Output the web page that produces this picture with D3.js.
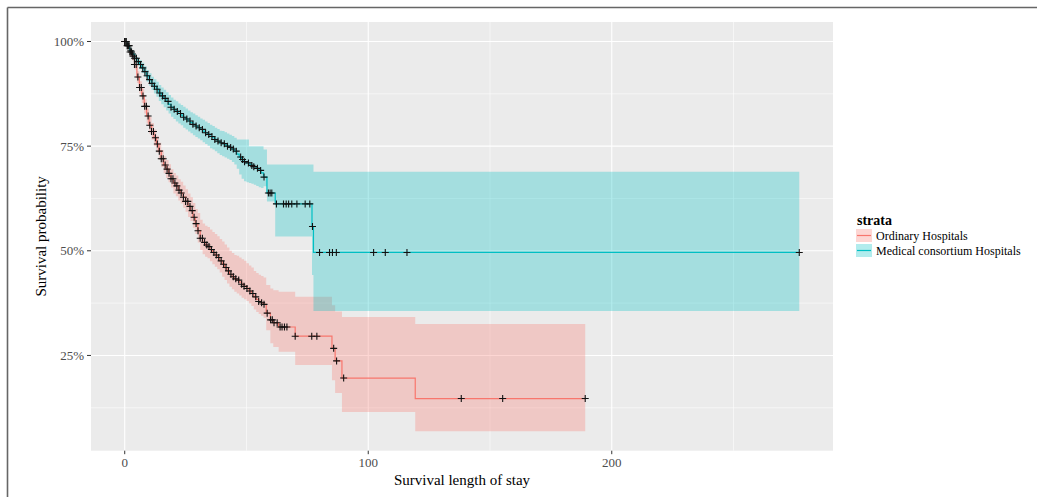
<!DOCTYPE html>
<html>
<head>
<meta charset="utf-8">
<script src="https://cdn.jsdelivr.net/npm/d3@7"></script>
<style>
  body { margin: 0; background: #fff; }
  svg { display: block; font-family: "Liberation Serif", "DejaVu Serif", serif; }
  .tick-label { fill: #4d4d4d; font-size: 13px; }
  .title { fill: #000; font-size: 15px; }
</style>
</head>
<body>
<svg width="1037" height="497"></svg>
<script>
// Ordinary Hospitals (red)
var redTime  = [0, 1, 2, 3, 4, 5, 6, 7, 8, 9, 10, 11, 12, 13, 14, 15, 16, 17, 18, 19,
                20, 21, 22, 23, 24, 25, 26, 27, 28, 29, 30, 31, 32, 33, 34, 35, 36, 37, 38, 39,
                40, 41, 42, 43, 44, 45, 46, 47, 48, 49, 50, 51, 52, 53, 54, 55, 56, 57,
                58.1, 59.8, 61, 63.2, 70, 85.1, 86.4, 89.2, 119.3, 189.1];
var redSurv  = [1, 0.99, 0.975, 0.965, 0.945, 0.915, 0.89, 0.87, 0.845, 0.822, 0.80, 0.785, 0.77, 0.755, 0.738, 0.72, 0.705, 0.695, 0.685, 0.672,
                0.662, 0.655, 0.645, 0.638, 0.628, 0.618, 0.606, 0.596, 0.580, 0.565, 0.548, 0.530, 0.520, 0.514, 0.510, 0.503, 0.496, 0.490, 0.484, 0.476,
                0.468, 0.460, 0.452, 0.444, 0.438, 0.433, 0.430, 0.425, 0.420, 0.415, 0.410, 0.404, 0.398, 0.390, 0.384, 0.379, 0.376, 0.372,
                0.351, 0.335, 0.328, 0.318, 0.296, 0.267, 0.237, 0.196, 0.147, 0.147];
var redUpper = [1, 0.995, 0.983, 0.975, 0.957, 0.929, 0.905, 0.887, 0.862, 0.84, 0.82, 0.805, 0.79, 0.775, 0.758, 0.741, 0.726, 0.717, 0.707, 0.695,
                0.686, 0.68, 0.671, 0.665, 0.656, 0.647, 0.637, 0.628, 0.614, 0.60, 0.59, 0.574, 0.565, 0.56, 0.557, 0.551, 0.545, 0.54, 0.535, 0.528,
                0.522, 0.515, 0.508, 0.50, 0.495, 0.49, 0.488, 0.484, 0.48, 0.476, 0.47, 0.465, 0.46, 0.452, 0.447, 0.443, 0.44, 0.436,
                0.418, 0.41, 0.406, 0.402, 0.39, 0.37, 0.355, 0.342, 0.325, 0.325];
var redLower = [1, 0.985, 0.967, 0.955, 0.933, 0.901, 0.875, 0.853, 0.828, 0.804, 0.78, 0.765, 0.75, 0.735, 0.718, 0.70, 0.685, 0.674, 0.664, 0.651,
                0.637, 0.63, 0.62, 0.613, 0.603, 0.593, 0.581, 0.571, 0.555, 0.54, 0.52, 0.502, 0.492, 0.486, 0.482, 0.475, 0.468, 0.462, 0.456, 0.448,
                0.438, 0.43, 0.422, 0.414, 0.408, 0.402, 0.398, 0.393, 0.388, 0.384, 0.38, 0.374, 0.368, 0.36, 0.354, 0.349, 0.345, 0.34,
                0.31, 0.279, 0.27, 0.259, 0.227, 0.191, 0.16, 0.115, 0.069, 0.069];
var redCensor = [0, 0.5, 1, 1.6, 2.2, 2.8, 3.4, 4, 4.7, 5.4, 6.1, 6.8, 7.5, 8.2, 8.9, 9.6, 10.3, 11, 11.8, 12.6,
                 13.4, 14.2, 15, 15.8, 16.6, 17.4, 18.2, 19, 19.8, 20.6, 21.4, 22.3, 23.2, 24.1, 25, 25.9, 26.8, 27.7, 28.5, 29.3,
                 30.1, 31, 31.9, 32.8, 33.7, 34.6, 35.6, 36.6, 37.6, 38.6, 39.6, 40.6, 41.6, 42.6, 43.6, 44.6, 45.6, 46.8, 48, 49,
                 50.2, 51.4, 52.6, 53.8, 55, 56.2, 57.2, 58.5, 59.9, 60.6, 61.3, 62.6, 63.8, 64.6, 65.6, 66.6, 70, 76.8, 78.9,
                 85.8, 87, 89.9, 138.2, 155.2, 189.1];

// Medical consortium Hospitals (teal)
var tealTime  = [0, 1, 2, 3, 4, 5, 6, 7, 8, 9, 10, 11, 12, 13, 14, 15, 16, 17, 18, 19,
                 20, 21, 22, 23, 24, 25, 26, 27, 28, 29, 30, 31, 32, 33, 34, 35, 36, 37, 38, 39,
                 40, 41, 42, 43, 44, 45, 46, 47, 48, 49, 50, 51, 52, 53, 54, 55, 56, 57,
                 58.4, 61.8, 76.9, 77.5, 277];
var tealSurv  = [1, 0.99, 0.978, 0.97, 0.96, 0.952, 0.945, 0.937, 0.928, 0.918, 0.909, 0.90, 0.893, 0.886, 0.877, 0.870, 0.864, 0.857, 0.850, 0.843,
                 0.838, 0.833, 0.828, 0.824, 0.819, 0.815, 0.81, 0.806, 0.802, 0.798, 0.794, 0.79, 0.786, 0.782, 0.778, 0.773, 0.77, 0.766, 0.762, 0.758,
                 0.756, 0.753, 0.75, 0.747, 0.743, 0.738, 0.731, 0.724, 0.718, 0.713, 0.71, 0.707, 0.704, 0.701, 0.697, 0.692, 0.686, 0.676,
                 0.638, 0.612, 0.558, 0.496, 0.496];
var tealUpper = [1, 0.995, 0.985, 0.978, 0.969, 0.962, 0.956, 0.949, 0.941, 0.932, 0.924, 0.916, 0.91, 0.904, 0.896, 0.89, 0.885, 0.879, 0.872, 0.866,
                 0.861, 0.857, 0.852, 0.848, 0.844, 0.84, 0.835, 0.831, 0.828, 0.824, 0.82, 0.816, 0.813, 0.809, 0.805, 0.801, 0.798, 0.794, 0.791, 0.787,
                 0.786, 0.783, 0.78, 0.777, 0.774, 0.77, 0.766, 0.766, 0.766, 0.766, 0.766, 0.75, 0.75, 0.75, 0.75, 0.75, 0.75, 0.742,
                 0.706, 0.706, 0.706, 0.689, 0.689];
var tealLower = [1, 0.985, 0.971, 0.962, 0.951, 0.942, 0.934, 0.925, 0.915, 0.904, 0.894, 0.884, 0.876, 0.868, 0.858, 0.85, 0.843, 0.835, 0.828, 0.82,
                 0.815, 0.809, 0.804, 0.80, 0.794, 0.79, 0.785, 0.781, 0.776, 0.772, 0.768, 0.764, 0.759, 0.755, 0.751, 0.745, 0.742, 0.738, 0.733, 0.729,
                 0.726, 0.723, 0.72, 0.717, 0.712, 0.706, 0.696, 0.682, 0.672, 0.666, 0.664, 0.662, 0.66, 0.658, 0.655, 0.652, 0.650, 0.654,
                 0.618, 0.534, 0.442, 0.356, 0.356];
var tealCensor = [0, 0.6, 1.2, 1.8, 2.5, 3.2, 4, 4.8, 5.6, 6.5, 7.4, 8.3, 9.2, 10.2, 11.2, 12.2, 13.3, 14.4, 15.5, 16.6,
                  17.8, 19, 20.3, 21.6, 22.9, 24.2, 25.5, 26.8, 28, 29.3, 30.6, 31.9, 33.2, 34.5, 35.8, 37, 38.3, 39.6, 40.9, 42.2,
                  43.5, 44.6, 45.8, 47.6, 48.4, 49.2, 50.8, 52.2, 53, 54.5, 55.8, 57.2, 59, 59.7, 60.4, 62.3, 65.2, 66.3, 67.3,
                  68.6, 70.7, 74.1, 76, 77.1, 80, 84.1, 85.3, 86.9, 102.2, 107, 115.9, 277];

var xTicks = [0, 100, 200];
var xMinor = [50, 150, 250];
var yTicks = [0.25, 0.5, 0.75, 1];
var yMinor = [0.125, 0.375, 0.625, 0.875];
var strata = ["Ordinary Hospitals", "Medical consortium Hospitals"];
var colors = ["#F8766D", "#00BFC4"];

var groups = [
  {time: redTime, surv: redSurv, upper: redUpper, lower: redLower, censor: redCensor, color: colors[0]},
  {time: tealTime, surv: tealSurv, upper: tealUpper, lower: tealLower, censor: tealCensor, color: colors[1]}
];

var svg = d3.select("svg"),
    panel = {left: 91, right: 833, top: 22, bottom: 450.7},
    width = panel.right - panel.left,
    height = panel.bottom - panel.top;

// frame around the figure
svg.append("line").attr("x1", 7.5).attr("x2", 1037).attr("y1", 7.5).attr("y2", 7.5)
  .attr("stroke", "#666").attr("stroke-width", 1.6);
svg.append("line").attr("x1", 7.5).attr("x2", 7.5).attr("y1", 7.5).attr("y2", 497)
  .attr("stroke", "#666").attr("stroke-width", 1.6);

// ggplot style 5% expansion
var tMax = d3.max(tealTime.concat(redTime)),
    xPad = tMax * 0.05;
var yLo = d3.min(redLower.concat(tealLower)),
    yHi = d3.max(redUpper.concat(tealUpper)),
    yPad = (yHi - yLo) * 0.05;

var x = d3.scaleLinear().domain([-xPad, tMax + xPad]).range([0, width]);
var y = d3.scaleLinear().domain([yLo - yPad, yHi + yPad]).range([height, 0]);

var g = svg.append("g")
    .attr("transform", "translate(" + panel.left + "," + panel.top + ")");

g.append("rect").attr("width", width).attr("height", height).attr("fill", "#EBEBEB");

// grid
g.selectAll(".ymin").data(yMinor).enter().append("line")
  .attr("x1", 0).attr("x2", width).attr("y1", function(d) { return y(d); }).attr("y2", function(d) { return y(d); })
  .attr("stroke", "#fff").attr("stroke-width", 0.55);
g.selectAll(".xmin").data(xMinor).enter().append("line")
  .attr("y1", 0).attr("y2", height).attr("x1", function(d) { return x(d); }).attr("x2", function(d) { return x(d); })
  .attr("stroke", "#fff").attr("stroke-width", 0.55);
g.selectAll(".ymaj").data(yTicks).enter().append("line")
  .attr("x1", 0).attr("x2", width).attr("y1", function(d) { return y(d); }).attr("y2", function(d) { return y(d); })
  .attr("stroke", "#fff").attr("stroke-width", 1.1);
g.selectAll(".xmaj").data(xTicks).enter().append("line")
  .attr("y1", 0).attr("y2", height).attr("x1", function(d) { return x(d); }).attr("x2", function(d) { return x(d); })
  .attr("stroke", "#fff").attr("stroke-width", 1.1);

// confidence bands
var band = d3.area()
    .curve(d3.curveStepAfter)
    .x(function(d) { return x(d.t); })
    .y0(function(d) { return y(d.lo); })
    .y1(function(d) { return y(d.up); });

var line = d3.line()
    .curve(d3.curveStepAfter)
    .x(function(d) { return x(d.t); })
    .y(function(d) { return y(d.s); });

groups.forEach(function(grp) {
  grp.pts = grp.time.map(function(t, i) {
    return {t: t, s: grp.surv[i], up: grp.upper[i], lo: grp.lower[i]};
  });
});

groups.forEach(function(grp) {
  g.append("path").datum(grp.pts)
    .attr("d", band)
    .attr("fill", grp.color)
    .attr("fill-opacity", 0.3);
});

groups.forEach(function(grp) {
  g.append("path").datum(grp.pts)
    .attr("d", line)
    .attr("fill", "none")
    .attr("stroke", grp.color)
    .attr("stroke-width", 1.2);
});

// censor marks
var cross = d3.symbol().type(d3.symbolCross);
groups.forEach(function(grp) {
  var sAt = function(t) { return grp.surv[Math.max(0, d3.bisectRight(grp.time, t) - 1)]; };
  g.selectAll(null).data(grp.censor).enter().append("path")
    .attr("d", "M-3.5,0H3.5M0,-3.5V3.5")
    .attr("transform", function(d) { return "translate(" + x(d) + "," + y(sAt(d)) + ")"; })
    .attr("stroke", "#111")
    .attr("stroke-width", 1.1)
    .attr("fill", "none");
});

// axes
g.selectAll(".xt").data(xTicks).enter().append("line")
  .attr("x1", function(d) { return x(d); }).attr("x2", function(d) { return x(d); })
  .attr("y1", height).attr("y2", height + 3.5)
  .attr("stroke", "#333").attr("stroke-width", 1);
g.selectAll(".xl").data(xTicks).enter().append("text")
  .attr("class", "tick-label")
  .attr("text-anchor", "middle")
  .attr("x", function(d) { return x(d); })
  .attr("y", height + 16.5)
  .text(function(d) { return d; });

g.selectAll(".yt").data(yTicks).enter().append("line")
  .attr("x1", -4).attr("x2", 0)
  .attr("y1", function(d) { return y(d); }).attr("y2", function(d) { return y(d); })
  .attr("stroke", "#333").attr("stroke-width", 1);
g.selectAll(".yl").data(yTicks).enter().append("text")
  .attr("class", "tick-label")
  .attr("text-anchor", "end")
  .attr("x", -7)
  .attr("y", function(d) { return y(d); })
  .attr("dy", "0.35em")
  .text(function(d) { return d3.format(".0%")(d); });

svg.append("text")
  .attr("class", "title")
  .attr("text-anchor", "middle")
  .attr("x", panel.left + width / 2)
  .attr("y", 485)
  .text("Survival length of stay");

svg.append("text")
  .attr("class", "title")
  .attr("text-anchor", "middle")
  .attr("transform", "translate(46," + (panel.top + height / 2) + ")rotate(-90)")
  .text("Survival probability");

// legend
var legend = svg.append("g").attr("transform", "translate(856,0)");
legend.append("text")
  .attr("x", 1).attr("y", 225)
  .attr("font-size", "14px").attr("font-weight", "bold").attr("fill", "#000")
  .text("strata");
var item = legend.selectAll(".item").data(strata).enter().append("g")
  .attr("transform", function(d, i) { return "translate(0," + (229 + i * 15) + ")"; });
item.append("rect").attr("width", 16).attr("height", 13)
  .attr("fill", function(d, i) { return colors[i]; }).attr("fill-opacity", 0.3);
item.append("line").attr("x1", 1).attr("x2", 15).attr("y1", 6.5).attr("y2", 6.5)
  .attr("stroke", function(d, i) { return colors[i]; }).attr("stroke-width", 1.2);
item.append("text")
  .attr("x", 20).attr("y", 11)
  .attr("font-size", "12px").attr("fill", "#000")
  .text(function(d) { return d; });
</script>
</body>
</html>
